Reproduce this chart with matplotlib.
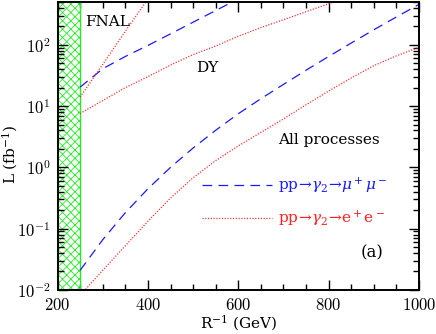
import matplotlib
matplotlib.use("Agg")
import matplotlib.pyplot as plt
from matplotlib.ticker import MultipleLocator, LogLocator, NullFormatter

plt.rcParams['font.family'] = 'serif'
plt.rcParams['font.serif'] = ['cmr10', 'DejaVu Serif']
plt.rcParams['mathtext.fontset'] = 'cm'
plt.rcParams['axes.formatter.use_mathtext'] = True
plt.rcParams['hatch.linewidth'] = 0.6
plt.rcParams['lines.scale_dashes'] = False

# R^-1 (GeV) and luminosity needed (fb^-1)
mass = [250, 300, 350, 400, 450, 500, 550, 600, 650, 700, 750, 800, 850, 900, 950, 1000]
all_mu = [0.0209, 0.066, 0.182, 0.447, 1.0, 2.07, 4.03, 7.5, 13.2, 22.6, 38.5, 64.6,
          107, 176, 285, 457]

mass_all_e = [262, 300, 350, 400, 450, 500, 550, 600, 650, 700, 750, 800, 850, 900, 950, 1000]
all_e = [0.0102, 0.0209, 0.0525, 0.132, 0.316, 0.676, 1.29, 2.24, 3.72, 6.17, 10.5, 17.6,
         28.8, 45.7, 66.1, 91.2]

mass_dy_mu = [250, 300, 350, 400, 450, 500, 550, 600]
dy_mu = [20.4, 40.7, 64.6, 97.7, 151, 234, 363, 562]

mass_dy_e = [250, 300, 350, 400, 450, 500, 550, 600, 650, 700, 750, 800, 850]
dy_e = [7.59, 12.3, 20.0, 30.2, 46.8, 69.2, 95.5, 138, 191, 257, 347, 468, 631]

mass_fnal = [250, 300, 350, 400]
fnal = [14.1, 47.9, 166, 562]

excluded = (200, 250)

blue = '#1a1aff'
red = '#ff2020'
green = '#22ee22'
dash = (7, 4.5)
dot = (0.8, 1.2)
txt = dict(family='DejaVu Serif', math_fontfamily='dejavuserif')

fig = plt.figure(figsize=(4.36, 3.34), dpi=100)
ax = fig.add_axes([0.132, 0.132, 0.829, 0.862])

ax.axvspan(excluded[0], excluded[1], facecolor='none', edgecolor=green, hatch='xxxx', lw=0)
ax.axvline(excluded[1], color=green, lw=1.0)

ax.plot(mass, all_mu, color=blue, lw=0.9, dashes=dash)
ax.plot(mass_dy_mu, dy_mu, color=blue, lw=0.9, dashes=dash)
ax.plot(mass_all_e, all_e, color=red, lw=0.9, dashes=dot)
ax.plot(mass_dy_e, dy_e, color=red, lw=0.9, dashes=dot)
ax.plot(mass_fnal, fnal, color=red, lw=0.9, dashes=dot)

ax.set_yscale('log')
ax.set_xlim(200, 1000)
ax.set_ylim(0.01, 500)

ax.xaxis.set_major_locator(MultipleLocator(200))
ax.xaxis.set_minor_locator(MultipleLocator(50))
ax.yaxis.set_major_locator(LogLocator(base=10, numticks=10))
ax.yaxis.set_minor_locator(LogLocator(base=10, subs=range(2, 10), numticks=10))
ax.yaxis.set_minor_formatter(NullFormatter())

ax.tick_params(which='both', direction='in', top=True, right=True, width=1.0)
ax.tick_params(which='major', length=7, labelsize=12)
ax.tick_params(which='minor', length=4)
ax.tick_params(axis='x', which='major', pad=5)
ax.tick_params(axis='y', which='major', pad=5)
for s in ax.spines.values():
    s.set_linewidth(1.4)

ax.set_xlabel(r'R$^{-1}$ (GeV)', fontsize=11, **txt)
ax.set_ylabel(r'L (fb$^{-1}$)', fontsize=11, **txt)
ax.xaxis.set_label_coords(0.5, -0.08)
ax.yaxis.set_label_coords(-0.104, 0.472)

ax.text(311, 240, 'FNAL', fontsize=11, ha='center', va='center', **txt)
ax.text(531, 42, 'DY', fontsize=11, ha='center', va='center', **txt)
ax.text(689, 2.75, 'All processes', fontsize=11, ha='left', va='center', **txt)

# legend drawn by hand inside the axes
ax.plot([520, 675], [0.51, 0.51], color=blue, lw=0.9, dashes=dash)
ax.plot([520, 675], [0.148, 0.148], color=red, lw=0.9, dashes=dot)
ax.text(689, 0.51, r'pp$\!\rightarrow\!\gamma_2\!\rightarrow\!\mu^+\mu^-$',
        fontsize=11, color=blue, ha='left', va='center', **txt)
ax.text(689, 0.148, r'pp$\!\rightarrow\!\gamma_2\!\rightarrow\!$e$^+$e$^-$',
        fontsize=11, color=red, ha='left', va='center', **txt)
ax.text(0.869, 0.13, '(a)', fontsize=12, ha='center', va='center',
        transform=ax.transAxes, **txt)

fig.savefig('out.png', dpi=100)
